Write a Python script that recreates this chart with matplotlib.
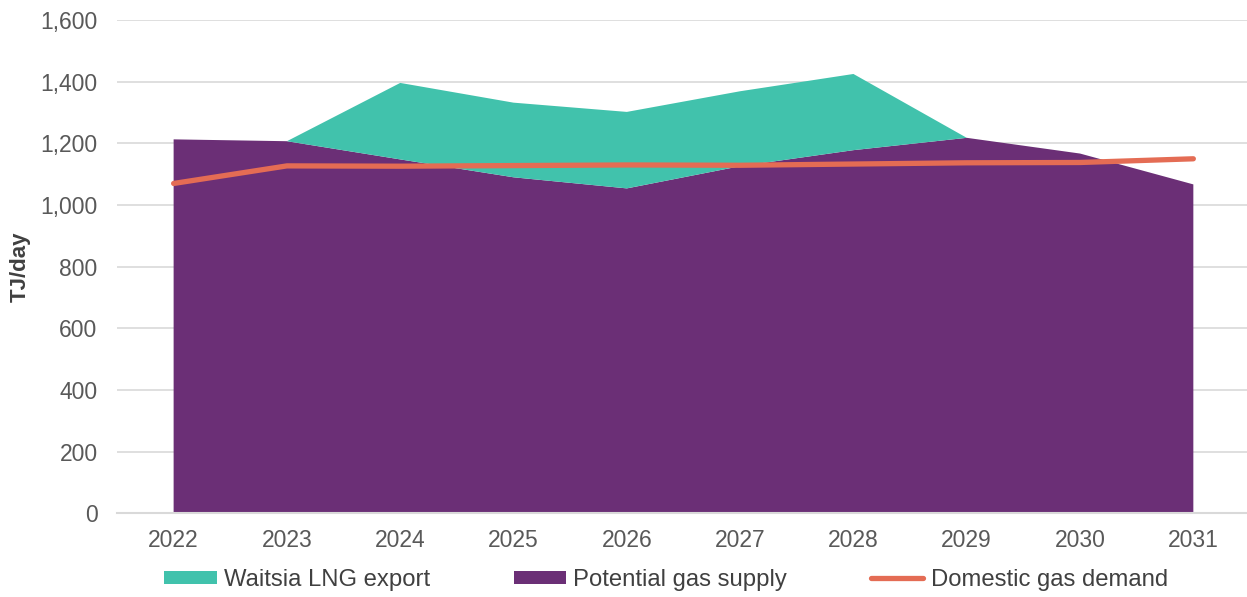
import matplotlib
matplotlib.use('Agg')

import numpy as np
import matplotlib.pyplot as plt
from matplotlib.patches import Patch
from matplotlib.lines import Line2D
from matplotlib.ticker import FuncFormatter

plt.rcParams['font.family'] = ['Liberation Sans', 'DejaVu Sans']

years = [2022, 2023, 2024, 2025, 2026, 2027, 2028, 2029, 2030, 2031]
supply = [1213, 1207, 1148, 1090, 1054, 1126, 1178, 1218, 1167, 1067]
lng_export = [0, 0, 248, 242, 248, 243, 247, 0, 0, 0]
demand = [1070, 1127, 1126, 1128, 1130, 1129, 1133, 1137, 1138, 1150]

teal = '#41C2AC'
purple = '#6B2F76'
orange = '#E46C54'

fig = plt.figure(figsize=(12.47, 5.97), dpi=100)
ax = fig.add_axes([0.0938, 0.1399, 0.9086, 0.8266])

# stacked areas: supply underneath, export on top
ax.stackplot(years, supply, lng_export, colors=[purple, teal], zorder=2)
ax.plot(years, demand, color=orange, lw=3.8, solid_capstyle='round', zorder=3)

ax.set_xlim(2021.5, 2031.5)
ax.set_ylim(0, 1600)
ax.set_xticks(years)
ax.set_yticks(np.arange(0, 1601, 200))
ax.yaxis.set_major_formatter(FuncFormatter(lambda v, p: f'{int(v):,}'))

ax.grid(axis='y', color='#D9D9D9', lw=1.2, zorder=0)
ax.set_axisbelow(True)
for s in ['top', 'right', 'left']:
    ax.spines[s].set_visible(False)
ax.spines['bottom'].set_color('#D9D9D9')
ax.spines['bottom'].set_linewidth(1.5)
ax.spines['bottom'].set_zorder(4)

ax.tick_params(axis='y', length=0, pad=14, labelsize=16.5, labelcolor='#595959')
ax.tick_params(axis='x', length=0, pad=11, labelsize=16.5, labelcolor='#595959')

ax.set_ylabel('TJ/day', fontsize=16, fontweight='bold', color='#404040', labelpad=7)

handles = [
    Patch(facecolor=teal, edgecolor='none'),
    Patch(facecolor=purple, edgecolor='none'),
    Line2D([0], [0], color=orange, lw=3.8, solid_capstyle='round'),
]
labels = ['Waitsia LNG export', 'Potential gas supply', 'Domestic gas demand']
leg = fig.legend(handles, labels, loc='center', bbox_to_anchor=(666 / 1247, 1 - 580 / 597),
                 ncol=3, frameon=False, fontsize=17.2, handlelength=2.2, handleheight=0.5,
                 handletextpad=0.3, columnspacing=3.5, labelcolor='#404040')

fig.savefig('out.png', dpi=100)
